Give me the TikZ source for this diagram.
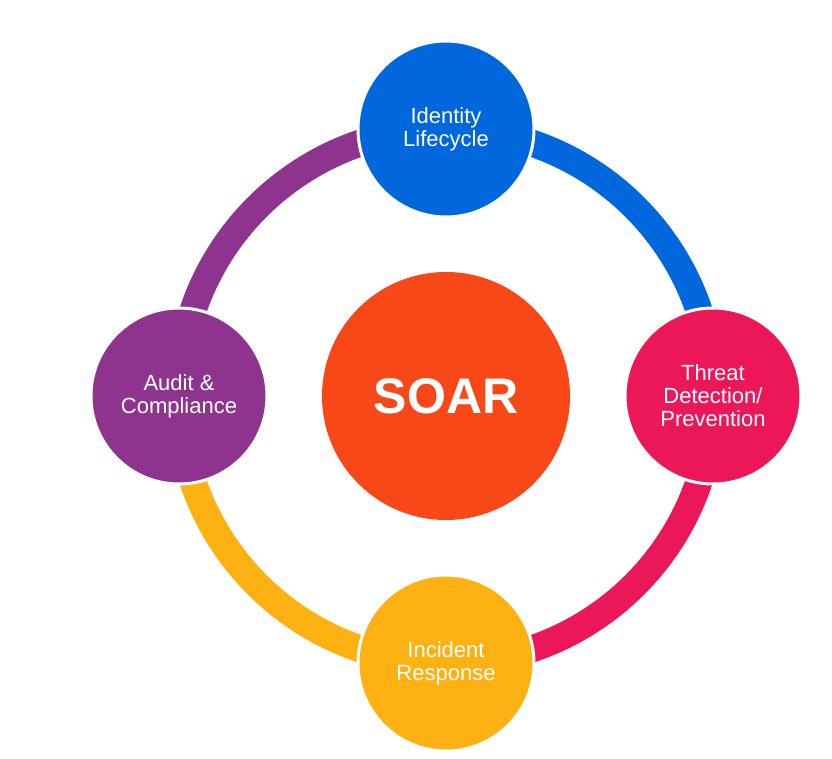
\documentclass[tikz,border=0pt]{standalone}
\usepackage{fontspec}
\setmainfont{Liberation Sans}
\usetikzlibrary{backgrounds}
\definecolor{soarorange}{HTML}{F84818}
\definecolor{identityblue}{HTML}{0067DD}
\definecolor{threatpink}{HTML}{EC1759}
\definecolor{incidentyellow}{HTML}{FDB112}
\definecolor{auditpurple}{HTML}{8F348E}

\begin{document}
\begin{tikzpicture}[x=1pt, y=1pt]
  \tikzset{topic/.style={circle, draw=white, line width=3pt, minimum size=176pt, inner sep=0pt, align=center, text=white, font=\fontsize{22}{23}\selectfont},
    ring/.style={line width=27pt}}
  \useasboundingbox (-446,-362) rectangle (386,396);
  \node[circle, fill=soarorange, minimum size=248pt, inner sep=0pt, text=white, font=\fontsize{50}{50}\selectfont\bfseries] (soar) at (0,0) {SOAR};
  \node[topic, fill=identityblue] (identity) at (90:267) {Identity\\Lifecycle};
  \node[topic, fill=threatpink] (threat) at (0:267) {Threat\\Detection/\\Prevention};
  \node[topic, fill=incidentyellow] (incident) at (-90:267) {Incident\\Response};
  \node[topic, fill=auditpurple] (audit) at (180:267) {Audit \&\\Compliance};
  \begin{scope}[on background layer]
    \draw[ring, identityblue] (identity.center) arc[start angle=90, end angle=0, radius=267pt];
    \draw[ring, threatpink] (threat.center) arc[start angle=0, end angle=-90, radius=267pt];
    \draw[ring, incidentyellow] (incident.center) arc[start angle=-90, end angle=-180, radius=267pt];
    \draw[ring, auditpurple] (audit.center) arc[start angle=180, end angle=90, radius=267pt];
  \end{scope}
\end{tikzpicture}
\end{document}
